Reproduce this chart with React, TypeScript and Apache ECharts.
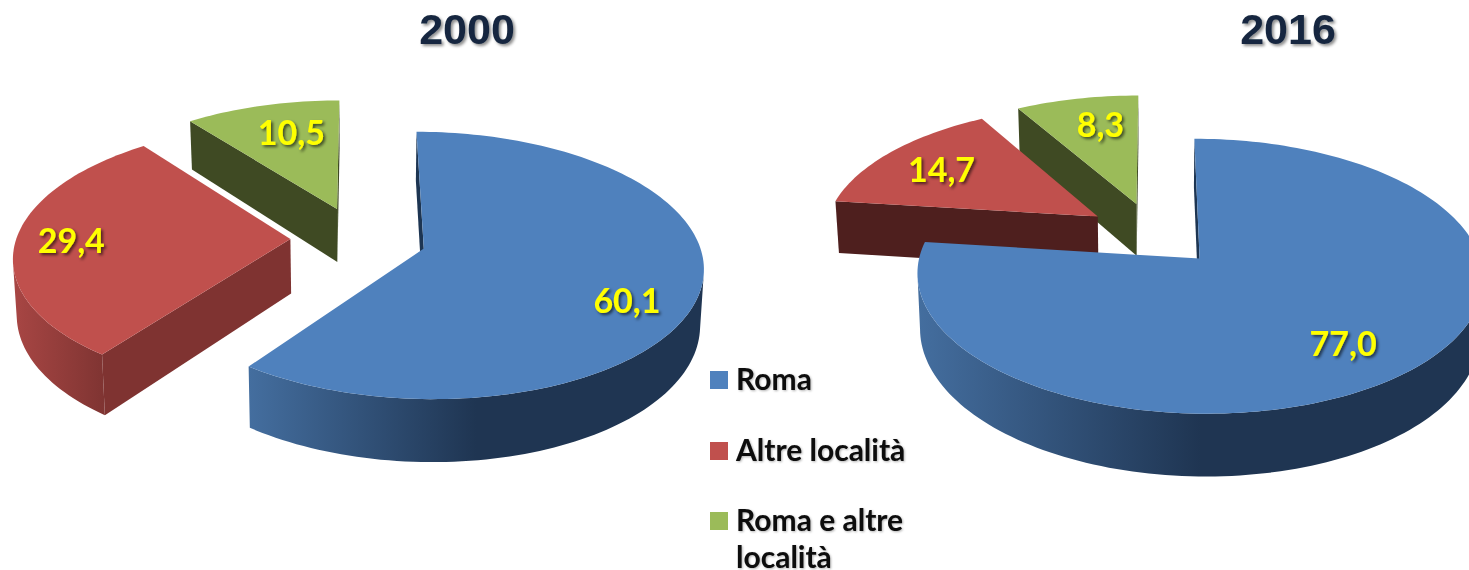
import React, { useEffect, useRef } from "react";
import * as echarts from "echarts";

const categories = ["Roma", "Altre località", "Roma e altre località"];
const legendLabels = [["Roma"], ["Altre località"], ["Roma e altre", "località"]];
const years = ["2000", "2016"];
const values2000 = [60.1, 29.4, 10.5];
const values2016 = [77.0, 14.7, 8.3];

const topColors = ["#4F81BD", "#C0504D", "#9BBB59"];

// projection of the tilted, exploded pies
const RX = 274, RY = 129, PERSP = 0.125, EXPLODE = 0.2485, CONVERGE = 0.011;
const pieLayouts = [
  {
    cx: 358.5, cy: 238.5, depth: 54.5,
    wall: ["#1D3552", "#7F3331", "#3F4A23"],
    side: [["#446E9F", "#1F3552"], ["#A84644", "#7F3432"], ["#3F4A23", "#3F4A23"]],
    labelFrac: [0.75, 0.78, 0.65],
    labelNudge: [[-2, 19], [-5, -1], [5, -8]],
    titleX: 462,
  },
  {
    cx: 1153.5, cy: 234, depth: 53.5,
    wall: ["#1D3552", "#4E1F1E", "#3F4A23"],
    side: [["#446E9F", "#1F3552"], ["#4E1F1E", "#4E1F1E"], ["#3F4A23", "#3F4A23"]],
    labelFrac: [0.75, 0.7, 0.7],
    labelNudge: [[-10, 2], [-9, -2], [7, -4]],
    titleX: 1283,
  },
];

const fmt = (v: number) => v.toFixed(1).replace(".", ",");

function buildRows(values: number[]) {
  const total = values.reduce((a, b) => a + b, 0);
  let acc = 0;
  const rows = values.map((v, i) => {
    const start = (acc / total) * 360;
    acc += v;
    const end = (acc / total) * 360;
    return [start, end, v, i];
  });
  return rows.reverse(); // far slices are painted first
}

function makeRender(layout: (typeof pieLayouts)[number]) {
  return (_params: any, api: any) => {
    const start = api.value(0) as number;
    const end = api.value(1) as number;
    const value = api.value(2) as number;
    const idx = api.value(3) as number;
    const rad = (d: number) => (d * Math.PI) / 180;
    const mid = rad((start + end) / 2);
    const ox = Math.sin(mid) * EXPLODE;
    const oz = Math.cos(mid) * EXPLODE;

    const top = (X: number, Z: number) => {
      const s = 1 / (1 + PERSP * Z);
      return [layout.cx + RX * X * s, layout.cy - RY * Z * s, s];
    };
    const p = (X: number, Z: number) => {
      const t = top(X, Z);
      return [t[0], t[1]];
    };
    const b = (X: number, Z: number) => {
      const t = top(X, Z);
      return [layout.cx + (t[0] - layout.cx) * (1 - CONVERGE), t[1] + layout.depth * t[2]];
    };

    const arcG: number[][] = [];
    const n = Math.max(12, Math.ceil((end - start) / 1.5));
    for (let i = 0; i <= n; i++) {
      const a = rad(start + ((end - start) * i) / n);
      arcG.push([ox + Math.sin(a), oz + Math.cos(a)]);
    }
    const apexTop = p(ox, oz);
    const first = arcG[0];
    const last = arcG[arcG.length - 1];
    const firstTop = p(first[0], first[1]);
    const lastTop = p(last[0], last[1]);

    const wallPoly = (g: number[]) => [apexTop, p(g[0], g[1]), b(g[0], g[1]), b(ox, oz)];
    const topTop = arcG.map((g) => p(g[0], g[1]));

    // the rim is seen only where the top edge runs right to left
    const rim = arcG.filter((_g, i) => {
      const prev = topTop[Math.max(0, i - 1)];
      const next = topTop[Math.min(arcG.length - 1, i + 1)];
      return next[0] < prev[0];
    });
    const rimTop = rim.map((g) => p(g[0], g[1]));
    const rimBot = rim.map((g) => b(g[0], g[1])).reverse();

    const gradient = {
      type: "linear", x: 0, y: 0, x2: 1, y2: 0,
      colorStops:
        idx === 0
          ? [
              { offset: 0, color: layout.side[idx][0] },
              { offset: 0.5, color: layout.side[idx][1] },
              { offset: 1, color: layout.side[idx][1] },
            ]
          : [
              { offset: 0, color: layout.side[idx][0] },
              { offset: 1, color: layout.side[idx][1] },
            ],
    };

    const f = layout.labelFrac[idx];
    const lp = top(ox + Math.sin(mid) * f, oz + Math.cos(mid) * f);
    const nudge = layout.labelNudge[idx];

    const children: any[] = [];
    if (firstTop[0] < apexTop[0]) {
      children.push({ type: "polygon", shape: { points: wallPoly(first) }, style: { fill: layout.wall[idx] } });
    }
    if (lastTop[0] > apexTop[0]) {
      children.push({ type: "polygon", shape: { points: wallPoly(last) }, style: { fill: layout.wall[idx] } });
    }
    if (rim.length > 1) {
      children.push({ type: "polygon", shape: { points: [...rimTop, ...rimBot] }, style: { fill: gradient } });
    }
    children.push({
      type: "polygon",
      shape: { points: [apexTop, ...topTop] },
      style: { fill: topColors[idx] },
    });
    children.push({
      type: "text",
      x: lp[0] + nudge[0],
      y: lp[1] + nudge[1],
      style: {
        text: fmt(value),
        fill: "#FFFF00",
        font: "bold 34px Lato",
        align: "center",
        verticalAlign: "middle",
        textShadowBlur: 3,
        textShadowOffsetX: 2,
        textShadowOffsetY: 2,
        textShadowColor: "rgba(0,0,0,0.6)",
      },
    });
    return { type: "group", children };
  };
}

const legendTops = [371, 442, 512];
const LEGEND_LINE = 37;

export default function App() {
  const ref = useRef<HTMLDivElement>(null);
  useEffect(() => {
    const chart = echarts.init(ref.current!, undefined, { renderer: "svg" });
    const pies = [values2000, values2016];
    chart.setOption({
      animation: false,
      backgroundColor: "#FFFFFF",
      title: years.map((y, i) => ({
        text: y,
        left: pieLayouts[i].titleX,
        top: 2,
        textAlign: "center",
        textStyle: {
          fontFamily: "Liberation Sans",
          fontWeight: "bold",
          fontSize: 43,
          color: "#17283F",
          textShadowColor: "rgba(0,0,0,0.45)",
          textShadowBlur: 3,
          textShadowOffsetX: 2,
          textShadowOffsetY: 2,
        },
      })),
      series: pies.map((vals, i) => ({
        type: "custom",
        name: years[i],
        coordinateSystem: "none",
        silent: true,
        clip: false,
        data: buildRows(vals),
        renderItem: makeRender(pieLayouts[i]),
      })),
      graphic: categories.flatMap((_c, i) => [
        {
          type: "rect",
          shape: { x: 710, y: legendTops[i], width: 18, height: 18 },
          style: { fill: topColors[i] },
        },
        ...legendLabels[i].map((line, k) => ({
          type: "text",
          x: 736,
          y: legendTops[i] + 7 + k * LEGEND_LINE,
          style: {
            text: line,
            fill: "#0A0A0A",
            font: "bold 30px Lato",
            lineHeight: 22,
            align: "left",
            verticalAlign: "middle",
            textShadowBlur: 2,
            textShadowOffsetX: 1,
            textShadowOffsetY: 1,
            textShadowColor: "rgba(0,0,0,0.3)",
          },
        })),
      ]),
    });
    return () => chart.dispose();
  }, []);
  return <div ref={ref} style={{ position: "fixed", left: 0, top: 0, width: 1469, height: 570 }} />;
}
